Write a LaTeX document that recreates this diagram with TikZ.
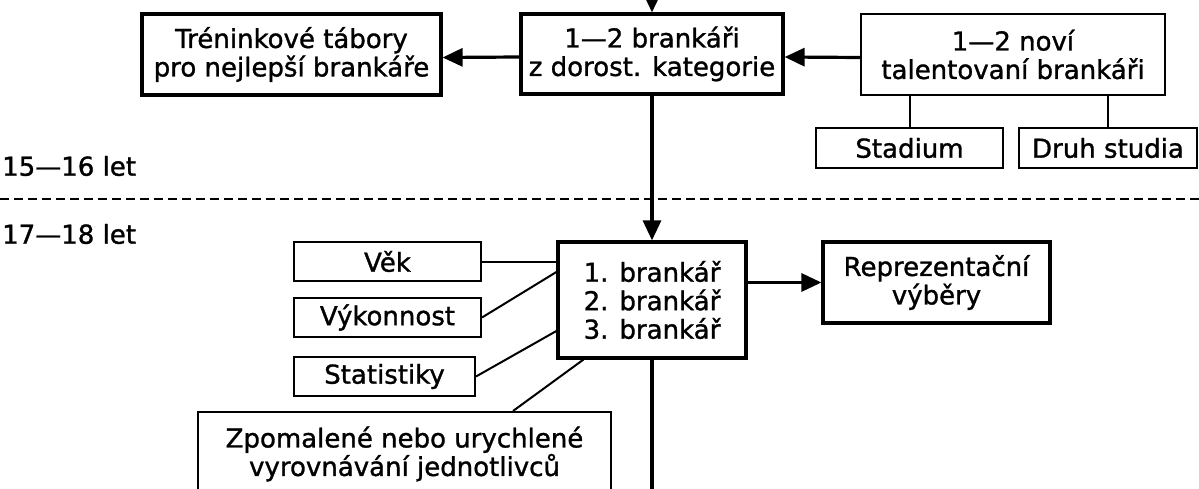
\documentclass[tikz,border=0pt]{standalone}
\usepackage{fontspec}
\setmainfont{DejaVu Sans}[FakeBold=1.2]
\usetikzlibrary{arrows.meta}

\begin{document}
\begin{tikzpicture}[x=1pt,y=-1pt,
font=\fontsize{26}{28.5}\selectfont,
heavybox/.style={draw,line width=3.2pt,align=center,inner sep=0pt},
lightbox/.style={draw,line width=2pt,align=center,inner sep=0pt},
flow/.style={line width=3.2pt,-{Triangle[length=20pt,width=18pt]}},
tie/.style={line width=2pt}]
\useasboundingbox (0,0) rectangle (1199,489);
\clip (0,0) rectangle (1199,489);

\node (tabory) [heavybox,minimum width=299pt,minimum height=81pt] at (291.5,54.5) {Tréninkové tábory\\pro nejlepší brankáře};
\node (dorost) [heavybox,minimum width=262pt,minimum height=80pt] at (652,54) {1—2 brankáři\\z dorost. kategorie};
\node (novi) [lightbox,minimum width=304pt,minimum height=81pt] at (1013,54.5) {1—2 noví\\talentovaní brankáři};
\node (stadium) [lightbox,minimum width=187pt,minimum height=40pt] at (909.5,148) {Stadium};
\node (druh) [lightbox,minimum width=178pt,minimum height=40pt] at (1108,148) {Druh studia};

\node (age1) [anchor=west,inner sep=0pt] at (2,166) {15—16 let};
\node (age2) [anchor=west,inner sep=0pt] at (2,234) {17—18 let};
\coordinate (sepL) at (0,199);
\coordinate (sepR) at (1199,199);
\draw [tie,dash pattern=on 9pt off 5pt] (sepL) -- (sepR);

\node (main) [heavybox,minimum width=188pt,minimum height=116pt] at (652,300) {1. brankář\\2. brankář\\3. brankář};
\node (repr) [heavybox,minimum width=227pt,minimum height=81pt] at (936.5,282.5) {Reprezentační\\výběry};
\node (vek) [lightbox,minimum width=187pt,minimum height=39pt] at (387.5,261.5) {Věk};
\node (vykon) [lightbox,minimum width=187pt,minimum height=39pt] at (387.5,317.5) {Výkonnost};
\node (stat) [lightbox,minimum width=181pt,minimum height=39pt] at (384.5,376.5) {Statistiky};
\node (zpomal) [lightbox,minimum width=413pt,minimum height=84pt] at (404.5,454) {Zpomalené nebo urychlené\\vyrovnávání jednotlivců};

\coordinate (entry) at (652,-2);
\coordinate (exit) at (652,495);
\draw [flow] (entry) -- (dorost.north);
\draw [flow] ([yshift=-3pt]dorost.west) -- ([yshift=-3pt]tabory.east);
\draw [flow] ([yshift=-3pt]novi.west) -- ([yshift=-3pt]dorost.east);
\draw [tie] (novi.south -| stadium.north) -- (stadium.north);
\draw [tie] (novi.south -| druh.north) -- (druh.north);
\draw [flow] (dorost.south) -- (main.north);
\draw [flow] (main.east |- repr.west) -- (repr.west);
\draw [line width=3.2pt] (main.south) -- (exit);
\draw [tie] (vek.east) -- (vek.east -| main.west);
\draw [tie] (vykon.east) -- ([yshift=28pt]main.west);
\draw [tie] (stat.east) -- ([yshift=-31pt]main.west);
\draw [tie] ([xshift=27pt]main.south west) -- ([xshift=108.5pt]zpomal.north);
\end{tikzpicture}
\end{document}
